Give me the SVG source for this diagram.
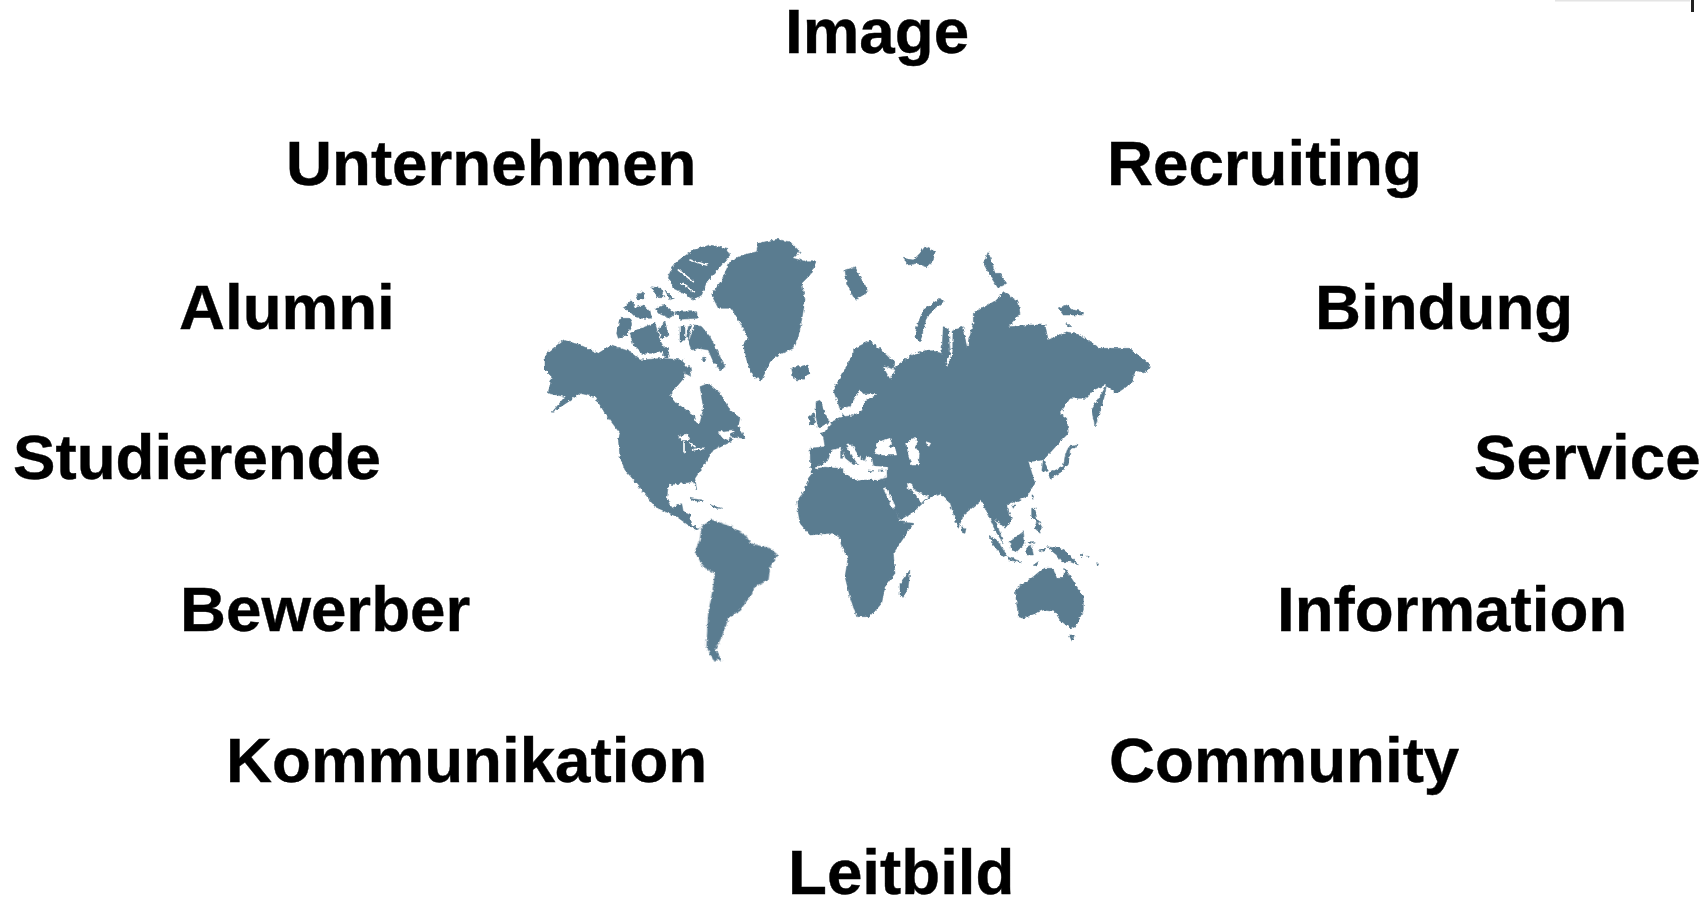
<svg xmlns="http://www.w3.org/2000/svg" width="1708" height="899" viewBox="0 0 1708 899">
<style>
text{font-family:"Liberation Sans",Arial,sans-serif;font-weight:700;font-size:63.7px;fill:#000;stroke:#000;stroke-width:.4}
.l{fill:#5a7b90;stroke:#5a7b90;stroke-width:1.5;stroke-linejoin:round}
.w{fill:#fff;stroke:#fff;stroke-width:1.5;stroke-linejoin:round}
.wl{fill:none;stroke:#fff;stroke-width:5;stroke-linejoin:round;stroke-linecap:round}
</style>
<defs>
<filter id="rough" x="-5%" y="-5%" width="110%" height="110%">
<feTurbulence type="fractalNoise" baseFrequency="0.3" numOctaves="2" seed="4" result="n"/>
<feDisplacementMap in="SourceGraphic" in2="n" scale="4" xChannelSelector="R" yChannelSelector="G"/>
<feGaussianBlur stdDeviation="0.45"/>
</filter>
</defs>
<rect width="1708" height="899" fill="#fff"/>
<g id="map" filter="url(#rough)">
<g transform="translate(530 220) scale(.33333)">
<path class="l" d="M545,225 575,180 600,125 640,105 680,95 685,70 740,58 780,65 810,95 790,115 830,125 858,125 840,165 815,190 825,240 815,300 805,350 790,385 745,405 720,425 695,480 670,470 650,420 640,375 655,355 620,290 605,265 565,265Z"/>
<path class="l" d="M440,125 490,90 540,75 590,85 600,105 575,135 530,185 515,225 490,240 470,225 430,205 415,170 425,145Z"/>
<path class="wl" d="M445,150 490,185M480,120 530,135M455,190 490,215"/>
<path class="l" d="M45,405 100,360 150,375 205,400 245,375 300,395 330,420 400,415 460,420 465,470 440,500 420,525 440,550 490,585 500,610 510,610 520,565 510,500 535,490 570,520 600,570 630,595 625,615 645,655 590,650 610,660 550,690 525,730 495,775 500,810 490,785 415,795 410,835 425,865 455,850 460,875 480,885 485,915 510,925 500,930 475,915 440,890 375,860 320,790 285,750 270,710 265,660 270,640 225,580 195,530 150,520 115,545 65,578 105,530 55,520 65,470 45,450Z"/>
<path class="w" d="M445,650 470,645 478,660 455,660Z M565,635 610,630 595,660 575,650Z"/>
<path class="wl" d="M462,665V698M480,668 495,680M485,690 520,685"/>
<path class="l" d="M785,445 830,435 840,460 805,480 790,475Z"/>
<path class="l" d="M480,835 515,840 520,845 490,842Z M540,855 575,865 550,865Z"/>
</g>
<g transform="translate(610 270) scale(.33333)">
<path class="l" d="M20,190 30,145 60,145 65,165 50,195 25,205Z M60,190 80,180 120,165 135,160 150,210 165,240 130,250 95,250 70,225Z M40,115 65,90 75,115 100,105 120,125 125,145 80,145 60,125Z M80,75 100,65 105,85 85,90Z M125,50 150,55 165,80 140,80Z M165,60 190,85 180,90Z M135,115 165,105 195,130 180,145 145,130Z M195,125 260,125 262,145 210,148Z M145,175 165,155 175,195 155,205Z M210,170 225,165 225,210 210,215Z M235,170 245,165 235,210 230,200Z M255,165 275,170 300,200 345,290 330,300 310,275 295,240 265,235 245,240 235,215 245,190Z M220,290 240,290 245,320 225,310Z M278,262 288,262 286,272 278,272Z M155,235 172,232 178,262 162,262Z"/>
</g>
<g transform="translate(600 440) scale(.33333)">
<path class="l" d="M305,260 335,240 395,260 440,290 450,310 510,325 533,345 510,380 505,420 465,440 450,470 420,510 385,535 365,590 345,630 365,660 340,660 320,620 325,520 340,440 345,400 310,380 285,335 300,300Z"/>
</g>
<g transform="translate(800 220) scale(.33333)">
<path class="l" d="M30,685 75,680 70,650 60,640 78,635 100,600 130,590 125,580 100,510 150,420 165,385 210,362 250,395 285,425 280,445 300,430 335,405 385,390 425,400 430,320 445,325 450,400 460,330 490,320 500,380 520,310 520,280 590,240 610,215 655,245 660,280 625,320 690,315 735,315 745,360 800,335 840,345 900,385 960,385 990,385 1050,435 1035,460 1005,450 995,490 950,520 915,495 880,510 860,535 810,535 780,580 800,595 805,640 785,660 730,720 745,750 725,755 730,720 685,725 705,790 680,830 620,855 635,900 615,925 585,895 610,970 585,930 545,840 490,885 475,925 450,850 420,820 385,835 340,875 300,900 250,805 250,780 200,770 40,770 32,742Z"/>
<path class="l" d="M48,745 100,730 170,780 250,780 300,905 340,910 280,1000 285,1060 255,1100 245,1150 210,1190 170,1190 150,1130 135,1070 145,1010 125,980 120,950 90,940 30,945 0,910 -10,845 15,810 25,775Z"/>
<path class="w" d="M250,440 285,450 270,475Z"/>
<path class="wl" d="M455,340V395L440,435M490,325 505,375"/>
<path class="l" d="M135,150 165,140 190,190 205,215 165,240 140,190Z M310,115 340,120 360,100 375,80 405,95 400,120 380,140 350,130 325,135Z M345,350 350,320 370,270 420,235 430,245 380,290 365,350 360,365Z M550,130 565,95 585,160 600,160 620,190 595,205 575,175Z M775,265 800,255 820,270 850,275 850,285 790,285Z M800,305 815,320 803,320Z M875,570 900,530 920,495 905,560 885,620Z"/>
<path class="l" d="M25,590 40,578 46,610 30,615Z M48,545 62,540 70,570 88,605 55,625 48,590Z M0,445 28,455 5,480 0,480Z"/>
<path class="wl" d="M810,600 815,660 800,690"/>
</g>
<g transform="translate(800 390) scale(.33333)">
<path class="w" d="M120,62 135,78 160,75 185,62 195,30 230,14 190,12 178,0 165,25 150,50 130,55Z"/>
<path class="w" d="M45,235 85,212 95,180 125,175 135,205 160,225 175,225 150,185 140,165 155,165 180,205 195,215 200,198 215,205 220,228 260,232 260,262 230,270 205,265 170,272 130,245 130,235 75,230Z"/>
<path class="l" d="M122,180 129,180 128,205 122,205Z M205,240 222,242 215,246Z M238,240 250,240 246,246Z"/>
<path class="w" d="M222,190 235,155 255,150 270,145 275,160 265,170 285,175 290,195 250,195Z"/>
<path class="w" d="M320,160 340,145 355,150 345,170 358,190 355,225 335,225 325,195Z"/>
<path class="w" d="M378,155 392,160 385,172Z"/>
<path class="w" d="M250,295 258,293 285,350 278,355Z"/>
<path class="w" d="M322,280 335,285 350,305 385,320 365,340 345,310 325,295Z"/>
</g>
<g transform="translate(880 440) scale(.33333)">
<path class="l" d="M405,450 460,410 490,385 520,385 530,415 550,415 555,385 610,470 610,510 590,555 570,565 540,540 525,515 490,510 430,535 415,530Z M567,585 583,585 577,605Z"/>
<path class="l" d="M60,430 90,390 85,440 70,472 60,465Z M245,260 258,265 255,280 247,278Z M325,285 350,300 380,345 370,350 340,315Z M380,350 425,365 420,368 385,358Z M390,305 430,275 435,310 410,335 395,330Z M440,320 455,315 460,345 440,345Z M455,205 465,205 470,235 485,260 480,280 465,265 470,245 455,230Z M455,165 462,165 458,178Z M505,100 550,80 555,50 565,20 595,15 570,30 565,70 545,95 510,115Z M500,320 540,325 565,340 595,375 570,365 545,365 530,345Z M395,195 405,195 400,205Z M460,375 475,365 470,378Z M445,305 465,305 465,310 445,310Z M475,330 495,325 495,335Z M600,345 612,338 605,350Z M620,348 628,350 624,354Z M650,368 656,370 652,376Z"/>
</g>
</g>
<rect x="1555" y="0" width="135" height="1.5" fill="#e4e4e4"/>
<rect x="1691" y="0" width="3" height="12" fill="#222"/>
<g id="label-image"><text x="785" y="52.5">Image</text></g>
<g id="label-unternehmen"><text x="286" y="184.6">Unternehmen</text></g>
<g id="label-recruiting"><text x="1107" y="184.6">Recruiting</text></g>
<g id="label-alumni"><text x="179" y="328.6">Alumni</text></g>
<g id="label-bindung"><text x="1315" y="328.6">Bindung</text></g>
<g id="label-studierende"><text x="13" y="478.6">Studierende</text></g>
<g id="label-service"><text x="1474" y="478.6">Service</text></g>
<g id="label-bewerber"><text x="180" y="630.6">Bewerber</text></g>
<g id="label-information"><text x="1277" y="630.6">Information</text></g>
<g id="label-kommunikation"><text x="226" y="781.6">Kommunikation</text></g>
<g id="label-community"><text x="1109" y="781.6">Community</text></g>
<g id="label-leitbild"><text x="788" y="893.5">Leitbild</text></g>
</svg>
